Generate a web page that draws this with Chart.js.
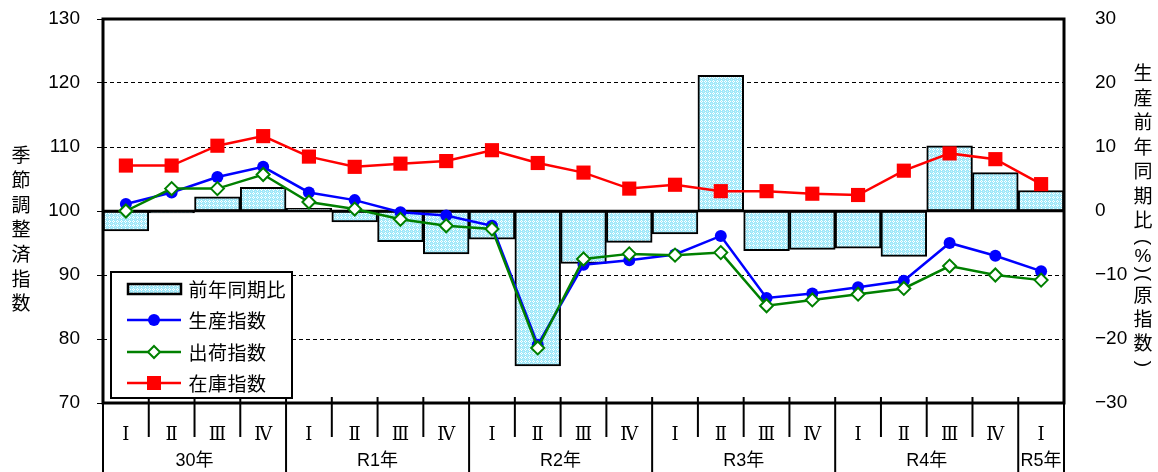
<!DOCTYPE html>
<html lang="ja">
<head>
<meta charset="utf-8">
<script src="https://cdn.jsdelivr.net/npm/chart.js@4.4.0/dist/chart.umd.min.js"></script>
<style>
  html, body { margin: 0; padding: 0; background: #fff; }
  #wrap { width: 1158px; height: 472px; }
</style>
</head>
<body>
<div id="wrap"><canvas id="myChart" width="1158" height="472"></canvas></div>
<script>
// 四半期ラベル
const quarters = ['Ⅰ','Ⅱ','Ⅲ','Ⅳ','Ⅰ','Ⅱ','Ⅲ','Ⅳ','Ⅰ','Ⅱ','Ⅲ','Ⅳ','Ⅰ','Ⅱ','Ⅲ','Ⅳ','Ⅰ','Ⅱ','Ⅲ','Ⅳ','Ⅰ'];
const yearLabels = ['30年', 'R1年', 'R2年', 'R3年', 'R4年', 'R5年'];
const yearStarts = [0, 4, 8, 12, 16, 20];

// 前年同期比（%）
const yoyChange = [-3.1, -0.3, 2.2, 3.7, 0.4, -1.7, -4.8, -6.7, -4.4, -24.2, -8.2, -4.9, -3.6, 21.2, -6.2, -6.0, -5.8, -7.1, 10.2, 6.0, 3.2];
// 生産指数
const production = [101.1, 102.9, 105.3, 106.9, 102.9, 101.7, 99.8, 99.3, 97.7, 79.1, 91.6, 92.3, 93.2, 96.1, 86.4, 87.1, 88.1, 89.1, 95.0, 93.0, 90.6];
// 出荷指数
const shipments = [100.0, 103.5, 103.5, 105.7, 101.4, 100.3, 98.7, 97.7, 97.2, 78.6, 92.5, 93.3, 93.1, 93.5, 85.2, 86.1, 87.0, 87.9, 91.4, 90.0, 89.2];
// 在庫指数
const inventory = [107.1, 107.1, 110.2, 111.7, 108.5, 106.9, 107.4, 107.8, 109.5, 107.5, 106.0, 103.5, 104.1, 103.1, 103.1, 102.7, 102.5, 106.3, 109.0, 108.1, 104.2];

const leftTitle = '季節調整済指数';
// 右軸タイトル（縦書き、括弧は回転して描く）
const rightTitle = ['生','産','前','年','同','期','比','(','%',')','(','原','指','数',')'];
const rightTitleY = [73, 98, 122, 147, 171, 196, 220, 242, 257, 270, 278, 295, 319, 343, 364];

const CJK = '"Noto Sans CJK JP", "Noto Sans", sans-serif';

// 網掛けパターン
const makePattern = () => {
    const pc = document.createElement('canvas');
    pc.width = 4; pc.height = 4;
    const p = pc.getContext('2d');
    p.fillStyle = '#9fe8f9';
    p.fillRect(0, 0, 4, 4);
    p.fillStyle = '#ffffff';
    p.fillRect(1, 0, 1, 1);
    p.fillRect(0, 1, 1, 1);
    p.fillRect(2, 1, 1, 1);
    p.fillRect(1, 2, 1, 1);
    p.fillStyle = '#c8f3fc';
    p.fillRect(3, 3, 1, 1);
    return p.createPattern(pc, 'repeat');
};
const hatch = makePattern();

const decorPlugin = {
    id: 'decor',
    afterDatasetDraw(chart, args) {
        if (args.index !== 0) return;
        // 0% の基準線
        const ctx = chart.ctx;
        const area = chart.chartArea;
        const y0 = chart.scales.y1.getPixelForValue(0);
        ctx.save();
        ctx.strokeStyle = '#000';
        ctx.lineWidth = 2.5;
        ctx.beginPath();
        ctx.moveTo(area.left, y0);
        ctx.lineTo(area.right, y0);
        ctx.stroke();
        ctx.restore();
    },
    afterDraw(chart) {
        const ctx = chart.ctx;
        const area = chart.chartArea;
        const xs = chart.scales.x;
        const n = quarters.length;
        const boundary = (k) => {
            if (k <= 0) return area.left;
            if (k >= n) return area.right;
            return (xs.getPixelForValue(k - 1) + xs.getPixelForValue(k)) / 2;
        };

        ctx.save();
        ctx.strokeStyle = '#000';

        // 区切り線
        for (let k = 0; k <= n; k++) {
            const x = boundary(k);
            const isYear = yearStarts.includes(k) || k === n;
            ctx.lineWidth = 2;
            ctx.beginPath();
            ctx.moveTo(x, area.bottom - 6);
            ctx.lineTo(x, isYear ? 472 : 437);
            ctx.stroke();
        }

        // 年ラベル
        ctx.fillStyle = '#000';
        ctx.font = '18px "Liberation Sans", ' + CJK;
        ctx.textAlign = 'center';
        ctx.textBaseline = 'middle';
        yearLabels.forEach((lab, i) => {
            const a = boundary(yearStarts[i]);
            const b = boundary(i + 1 < yearStarts.length ? yearStarts[i + 1] : n);
            ctx.fillText(lab, (a + b) / 2, 461);
        });

        // 外枠
        ctx.lineWidth = 3;
        ctx.strokeRect(area.left, area.top, area.right - area.left, area.bottom - area.top);

        // 凡例
        const lx = 111, ly = 272, lw = 181, lh = 126;
        ctx.fillStyle = '#fff';
        ctx.fillRect(lx, ly, lw, lh);
        ctx.lineWidth = 2;
        ctx.strokeRect(lx, ly, lw, lh);

        const rows = [
            { label: '前年同期比', y: 289, kind: 'bar' },
            { label: '生産指数', y: 320, kind: 'circle', color: '#0000ff' },
            { label: '出荷指数', y: 352, kind: 'diamond', color: '#008000' },
            { label: '在庫指数', y: 383, kind: 'square', color: '#ff0000' }
        ];
        rows.forEach(r => {
            if (r.kind === 'bar') {
                ctx.fillStyle = hatch;
                ctx.fillRect(128, r.y - 5, 53, 10);
                ctx.lineWidth = 2.5;
                ctx.strokeStyle = '#000';
                ctx.strokeRect(128, r.y - 5, 53, 10);
            } else {
                ctx.strokeStyle = r.color;
                ctx.lineWidth = 2.5;
                ctx.beginPath();
                ctx.moveTo(127, r.y);
                ctx.lineTo(181, r.y);
                ctx.stroke();
                if (r.kind === 'circle') {
                    ctx.fillStyle = r.color;
                    ctx.beginPath();
                    ctx.arc(154, r.y, 6, 0, Math.PI * 2);
                    ctx.fill();
                } else if (r.kind === 'diamond') {
                    ctx.fillStyle = '#fff';
                    ctx.lineWidth = 2;
                    ctx.beginPath();
                    ctx.moveTo(154, r.y - 6);
                    ctx.lineTo(160, r.y);
                    ctx.lineTo(154, r.y + 6);
                    ctx.lineTo(148, r.y);
                    ctx.closePath();
                    ctx.fill();
                    ctx.stroke();
                } else {
                    ctx.fillStyle = r.color;
                    ctx.fillRect(147, r.y - 7, 14, 14);
                }
            }
            ctx.fillStyle = '#000';
            ctx.font = '19px ' + CJK;
            ctx.textAlign = 'center';
            ctx.textBaseline = 'middle';
            [...r.label].forEach((ch, i) => ctx.fillText(ch, 198 + i * 19.5, r.y + 1));
        });

        // 軸タイトル（縦書き）
        ctx.font = '19px ' + CJK;
        [...leftTitle].forEach((ch, i) => ctx.fillText(ch, 21, 155 + i * 24.7));
        rightTitle.forEach((ch, i) => {
            if (ch === '(' || ch === ')') {
                ctx.save();
                ctx.translate(1143, rightTitleY[i]);
                ctx.rotate(Math.PI / 2);
                ctx.font = '19px "Liberation Sans", sans-serif';
                ctx.fillText(ch, 0, 0);
                ctx.restore();
            } else {
                ctx.font = ch === '%' ? '19px "Liberation Sans", sans-serif' : '19px ' + CJK;
                ctx.fillText(ch, 1143, rightTitleY[i]);
            }
        });

        ctx.restore();
    }
};

Chart.defaults.font.family = '"Liberation Sans", Arial, sans-serif';
Chart.defaults.color = '#000';

const chartCanvas = document.getElementById('myChart');
const myChart = new Chart(chartCanvas, {
    data: {
        labels: quarters,
        datasets: [
            {
                type: 'bar',
                label: '前年同期比',
                data: yoyChange,
                yAxisID: 'y1',
                backgroundColor: hatch,
                borderColor: '#000',
                borderWidth: 2,
                borderSkipped: false,
                barPercentage: 1,
                categoryPercentage: 1,
                order: 4
            },
            {
                type: 'line',
                label: '生産指数',
                data: production,
                yAxisID: 'y',
                borderColor: '#0000ff',
                backgroundColor: '#0000ff',
                borderWidth: 2.5,
                pointStyle: 'circle',
                pointRadius: 6,
                pointBorderWidth: 0,
                tension: 0,
                order: 3
            },
            {
                type: 'line',
                label: '出荷指数',
                data: shipments,
                yAxisID: 'y',
                borderColor: '#008000',
                backgroundColor: '#ffffff',
                borderWidth: 2.5,
                pointStyle: 'rectRot',
                pointRadius: 6.5,
                pointBorderWidth: 2,
                pointBorderColor: '#008000',
                pointBackgroundColor: '#ffffff',
                tension: 0,
                order: 2
            },
            {
                type: 'line',
                label: '在庫指数',
                data: inventory,
                yAxisID: 'y',
                borderColor: '#ff0000',
                backgroundColor: '#ff0000',
                borderWidth: 2.5,
                pointStyle: 'rect',
                pointRadius: 10,
                pointBorderWidth: 0,
                tension: 0,
                order: 1
            }
        ]
    },
    options: {
        responsive: false,
        animation: false,
        events: [],
        layout: { padding: { top: 19, bottom: 0, left: 0, right: 0 } },
        plugins: {
            legend: { display: false },
            tooltip: { enabled: false }
        },
        scales: {
            x: {
                offset: true,
                grid: { display: false },
                border: { display: false },
                ticks: {
                    padding: 14,
                    maxRotation: 0,
                    autoSkip: false,
                    font: { family: '"DejaVu Serif", serif', size: 18 }
                },
                afterFit: (scale) => { scale.height = 69; }
            },
            y: {
                position: 'left',
                min: 70,
                max: 130,
                ticks: { stepSize: 10, padding: 17, font: { size: 19 } },
                grid: {
                    color: (c) => [80, 90, 110, 120].includes(c.tick.value) ? '#000' : 'rgba(0,0,0,0)',
                    lineWidth: 1,
                    tickColor: '#000',
                    tickLength: 6
                },
                border: { display: false, dash: [4, 3] },
                afterFit: (scale) => { scale.width = 103; scale.paddingTop = 0; scale.paddingBottom = 0; }
            },
            y1: {
                position: 'right',
                min: -30,
                max: 30,
                ticks: {
                    stepSize: 10,
                    padding: 23,
                    font: { size: 19 },
                    callback: (v) => String(v).replace('-', '−')
                },
                grid: { display: false },
                border: { display: false },
                afterFit: (scale) => { scale.width = 94; scale.paddingTop = 0; scale.paddingBottom = 0; }
            }
        }
    },
    plugins: [decorPlugin]
});
</script>
</body>
</html>
